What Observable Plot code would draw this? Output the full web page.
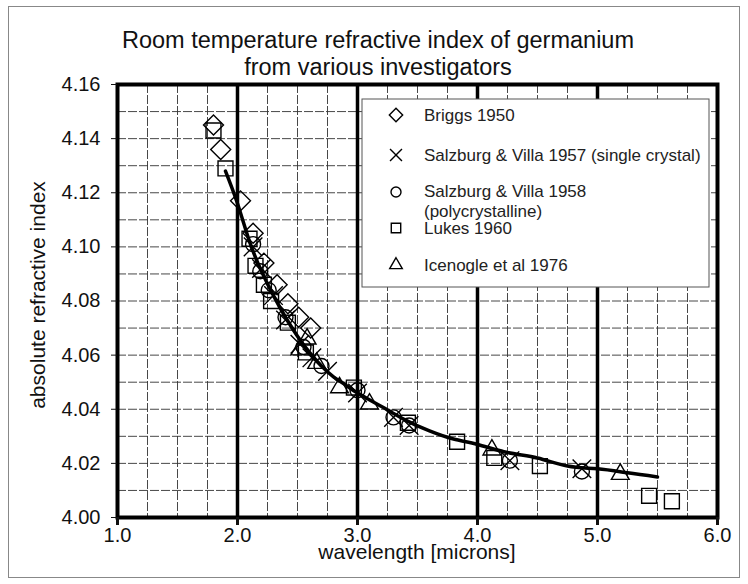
<!DOCTYPE html>
<html><head><meta charset="utf-8">
<script src="https://cdn.jsdelivr.net/npm/d3@7"></script>
<script src="https://cdn.jsdelivr.net/npm/@observablehq/plot@0.6"></script>
<style>
body{margin:0;background:#fff;}
#wrap{position:relative;width:748px;height:584px;}
</style></head><body><div id="wrap"></div>
<script>
// ---- text ----
const titleLines = ["Room temperature refractive index of germanium", "from various investigators"];
const xLabel = "wavelength [microns]";
const yLabel = "absolute refractive index";

// ---- ticks & grid ----
const xTicks = [1, 2, 3, 4, 5, 6];
const yTicks = [4.00, 4.02, 4.04, 4.06, 4.08, 4.10, 4.12, 4.14, 4.16];
const xMajorGrid = [2, 3, 4, 5];
const xMinorGrid = [1.25, 1.5, 1.75, 2.25, 2.5, 2.75, 3.25, 3.5, 3.75, 4.25, 4.5, 4.75, 5.25, 5.5, 5.75];
const yGrid = [4.01, 4.02, 4.03, 4.04, 4.05, 4.06, 4.07, 4.08, 4.09, 4.10, 4.11, 4.12, 4.13, 4.14, 4.15];

// ---- data ----
const briggsX = [1.80, 1.86, 2.025, 2.13, 2.22, 2.33, 2.42, 2.51, 2.61];
const briggsY = [4.145, 4.136, 4.117, 4.105, 4.094, 4.086, 4.079, 4.074, 4.070];

const sv57X = [2.13, 2.20, 2.30, 2.40, 2.52, 2.62, 2.75, 3.00, 3.30, 3.43, 4.27, 4.87];
const sv57Y = [4.100, 4.092, 4.082, 4.073, 4.064, 4.059, 4.054, 4.046, 4.037, 4.034, 4.021, 4.018];

const sv58X = [2.13, 2.19, 2.26, 2.40, 2.55, 2.70, 3.00, 3.30, 3.43, 4.27, 4.87];
const sv58Y = [4.101, 4.091, 4.084, 4.074, 4.063, 4.056, 4.047, 4.037, 4.034, 4.021, 4.017];

const lukesX = [1.80, 1.90, 2.10, 2.15, 2.22, 2.28, 2.42, 2.57, 2.97, 3.42, 3.83, 4.14, 4.52, 5.43, 5.62];
const lukesY = [4.143, 4.129, 4.103, 4.093, 4.086, 4.080, 4.072, 4.061, 4.048, 4.035, 4.028, 4.022, 4.019, 4.008, 4.006];

const iceX = [2.52, 2.58, 2.66, 2.85, 3.10, 4.12, 5.19];
const iceY = [4.062, 4.066, 4.057, 4.048, 4.042, 4.025, 4.016];

const fitX = [1.90, 2.00, 2.10, 2.20, 2.30, 2.40, 2.50, 2.60, 2.70, 2.80, 2.90, 3.00, 3.20, 3.40, 3.60, 3.80, 4.00, 4.25, 4.50, 4.75, 5.00, 5.25, 5.50];
const fitY = [4.128, 4.116, 4.102, 4.091, 4.082, 4.074, 4.067, 4.061, 4.056, 4.052, 4.049, 4.046, 4.041, 4.036, 4.032, 4.029, 4.027, 4.024, 4.022, 4.019, 4.018, 4.0165, 4.015];

const seriesNames = ["Briggs 1950", "Salzburg & Villa 1957 (single crystal)", "Salzburg & Villa 1958\n(polycrystalline)", "Lukes 1960", "Icenogle et al 1976"];
const seriesSymbols = ["diamond2", "times", "circle", "square2", "triangle2"];
const seriesR = [9, 8.5, 7.5, 9.5, 8.5];
const seriesXs = [briggsX, sv57X, sv58X, lukesX, iceX];
const seriesYs = [briggsY, sv57Y, sv58Y, lukesY, iceY];

const font = "'Liberation Sans', Arial, Helvetica, sans-serif";
const zip = (xs, ys) => xs.map((x, i) => ({x, y: ys[i]}));

const dotMarks = seriesNames.map((n, i) =>
  Plot.dot(zip(seriesXs[i], seriesYs[i]), {x: "x", y: "y", symbol: seriesSymbols[i], r: seriesR[i], stroke: "#000", strokeWidth: 1.4, fill: "none"})
);

const grid = {stroke: "#333", strokeWidth: 0.9, strokeDasharray: "9,2"};

const svg = Plot.plot({
  width: 748, height: 584,
  marginLeft: 117, marginRight: 31, marginTop: 84, marginBottom: 67,
  x: {domain: [1, 6]},
  y: {domain: [4.00, 4.16]},
  style: {fontFamily: font, background: "white", color: "#111", overflow: "visible"},
  marks: [
    Plot.ruleY(yGrid, grid),
    Plot.ruleX(xMinorGrid, grid),
    Plot.ruleX(xMajorGrid, {stroke: "#000", strokeWidth: 3.5}),
    Plot.frame({stroke: "#000", strokeWidth: 4}),
    Plot.line(zip(fitX, fitY), {x: "x", y: "y", curve: "natural", stroke: "#000", strokeWidth: 3.5}),
    ...dotMarks,
    Plot.axisX(xTicks, {tickSize: 8, tickPadding: 2, strokeWidth: 3, tickFormat: d => d.toFixed(1), fontSize: 20, label: null}),
    Plot.axisY(yTicks, {tickSize: 6, tickPadding: 11, strokeWidth: 1, tickFormat: d => d.toFixed(2), fontSize: 20, label: null})
  ]
});

const s = d3.select(svg);
// outer border
s.insert("rect", ":first-child").attr("x", 8.5).attr("y", 6.5).attr("width", 731).attr("height", 571)
  .attr("fill", "none").attr("stroke", "#888").attr("stroke-width", 1);
// title
s.append("text").attr("x", 378).attr("y", 48).attr("text-anchor", "middle").attr("font-size", 23.5).attr("fill", "#111").text(titleLines[0]);
s.append("text").attr("x", 378).attr("y", 75).attr("text-anchor", "middle").attr("font-size", 23.5).attr("fill", "#111").text(titleLines[1]);
// axis titles
s.append("text").attr("x", 417).attr("y", 559).attr("text-anchor", "middle").attr("font-size", 21).attr("fill", "#111").text(xLabel);
s.append("text").attr("transform", "translate(45,295) rotate(-90)").attr("text-anchor", "middle").attr("font-size", 21).attr("fill", "#111").text(yLabel);

// legend
const lg = s.append("g").attr("text-anchor", "start");
lg.append("rect").attr("x", 362).attr("y", 99).attr("width", 347).attr("height", 188)
  .attr("fill", "white").attr("stroke", "#555").attr("stroke-width", 1);
const legendSym = {diamond2: d3.symbolDiamond2, times: d3.symbolTimes, circle: d3.symbolCircle, square2: d3.symbolSquare2, triangle2: d3.symbolTriangle2};
const legendSymY = [115, 155, 192, 228, 265];
const legendTextY = [115, 155, 191, 228, 265];
const legendR = [6, 5.5, 5, 6, 6];
seriesNames.forEach((n, i) => {
  lg.append("path").attr("transform", `translate(396,${legendSymY[i]})`)
    .attr("d", d3.symbol(legendSym[seriesSymbols[i]], Math.PI * legendR[i] ** 2)())
    .attr("fill", "none").attr("stroke", "#000").attr("stroke-width", 1.4);
  const lines = n.split("\n");
  lines.forEach((ln, j) => {
    lg.append("text").attr("x", 424).attr("y", legendTextY[i] + j * 20).attr("dy", "0.35em")
      .attr("text-anchor", "start").attr("font-size", 17).attr("fill", "#222").text(ln);
  });
});

document.getElementById("wrap").appendChild(svg);
</script></body></html>
